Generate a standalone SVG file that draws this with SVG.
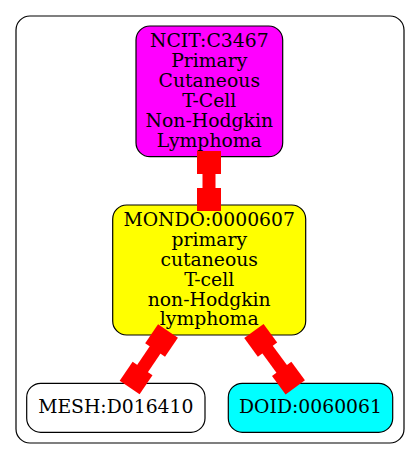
<svg xmlns="http://www.w3.org/2000/svg" width="420" height="459" viewBox="0 0 420 459">
<style>
.cl{fill:#fff;stroke:#000;stroke-width:1.2}
.n{stroke:#000;stroke-width:1.2}
.t{font-family:"DejaVu Serif",serif;font-size:18.8px;text-anchor:middle;fill:#000}
.e{fill:#ff0000;stroke:none}
</style>
<rect width="420" height="459" fill="#fff"/>
<g id="cluster">
<rect class="cl" x="16" y="16" width="388" height="427" rx="14" ry="14"/>
</g>
<g id="NCIT_C3467">
<rect class="n" x="136" y="26" width="146.7" height="130.7" rx="14" ry="14" fill="#ff00ff"/>
<text class="t" x="209.3" y="46.7">NCIT:C3467</text>
<text class="t" x="209.3" y="66.7">Primary</text>
<text class="t" x="209.3" y="86.7">Cutaneous</text>
<text class="t" x="209.3" y="106.7">T-Cell</text>
<text class="t" x="209.3" y="126.7">Non-Hodgkin</text>
<text class="t" x="209.3" y="146.7">Lymphoma</text>
</g>
<g id="MONDO_0000607">
<rect class="n" x="112.7" y="205" width="193" height="130" rx="14" ry="14" fill="#ffff00"/>
<text class="t" x="209.2" y="226">MONDO:0000607</text>
<text class="t" x="209.2" y="246">primary</text>
<text class="t" x="209.2" y="266">cutaneous</text>
<text class="t" x="209.2" y="285.5">T-cell</text>
<text class="t" x="209.2" y="305.5">non-Hodgkin</text>
<text class="t" x="209.2" y="325">lymphoma</text>
</g>
<g id="MESH_D016410">
<rect class="n" x="26.7" y="383.3" width="178.3" height="49" rx="14" ry="14" fill="#fff"/>
<text class="t" x="115.8" y="413.3">MESH:D016410</text>
</g>
<g id="DOID_0060061">
<rect class="n" x="228.3" y="383.3" width="164.4" height="49" rx="14" ry="14" fill="#00ffff"/>
<text class="t" x="310.5" y="413.3">DOID:0060061</text>
</g>
<g id="connectors">
<g transform="translate(209,151)">
<rect class="e" x="-12" y="0" width="24" height="23"/>
<rect class="e" x="-6.5" y="22" width="13" height="16"/>
<rect class="e" x="-12" y="37" width="24" height="23"/>
</g>
<g transform="translate(168,330.9) rotate(34.1)">
<rect class="e" x="-12" y="0" width="24" height="23"/>
<rect class="e" x="-6.5" y="22" width="13" height="24.4"/>
<rect class="e" x="-12" y="45.4" width="24" height="23"/>
</g>
<g transform="translate(253.9,331) rotate(-36.3)">
<rect class="e" x="-12" y="0" width="24" height="23"/>
<rect class="e" x="-6.5" y="22" width="13" height="25.9"/>
<rect class="e" x="-12" y="46.9" width="24" height="23"/>
</g>
</g>
</svg>
